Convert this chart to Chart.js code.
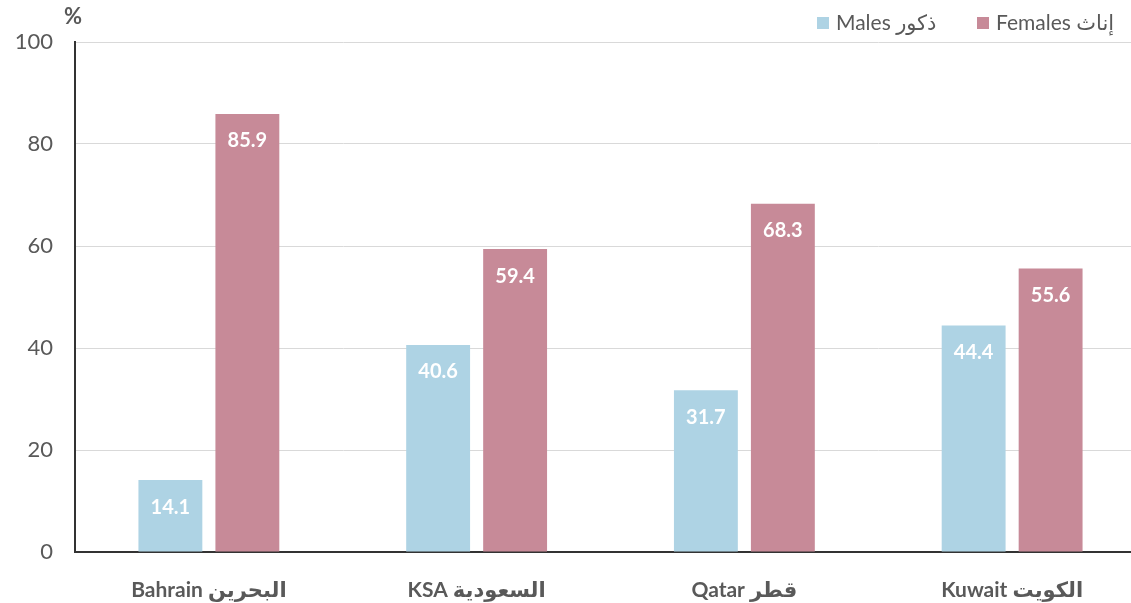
<!DOCTYPE html>
<html>
<head>
<meta charset="utf-8">
<script src="https://cdn.jsdelivr.net/npm/chart.js@4.4.1/dist/chart.umd.min.js"></script>
<style>
  html, body { margin: 0; padding: 0; background: #fff; overflow: hidden; }
  #wrap { width: 1150px; height: 603px; position: relative; }
</style>
</head>
<body>
<div id="wrap"><canvas id="chart"></canvas></div>
<script>
// Chart data
const categories = ['Bahrain البحرين', 'KSA السعودية', 'Qatar قطر', 'Kuwait الكويت'];
const malesValues = [14.1, 40.6, 31.7, 44.4];
const femalesValues = [85.9, 59.4, 68.3, 55.6];
const seriesLabels = ['Males ذكور', 'Females إناث'];
const yTicks = [0, 20, 40, 60, 80, 100];

const FONT = "Lato, 'DejaVu Sans', sans-serif";
const GREY = '#595959';
const MALE_COLOR = '#aed3e4';
const FEMALE_COLOR = '#c78a98';

// white value labels inside the top of each bar
const valueLabels = {
    id: 'valueLabels',
    afterDatasetsDraw(chart) {
        const ctx = chart.ctx;
        ctx.save();
        ctx.fillStyle = '#ffffff';
        ctx.font = 'bold 20px ' + FONT;
        ctx.textAlign = 'center';
        ctx.textBaseline = 'middle';
        chart.data.datasets.forEach((ds, i) => {
            chart.getDatasetMeta(i).data.forEach((bar, j) => {
                ctx.fillText(ds.data[j].toFixed(1), bar.x, bar.y + 27);
            });
        });
        ctx.restore();
    }
};

// legend in the top right plus the % unit label
const topDecor = {
    id: 'topDecor',
    afterDraw(chart) {
        const ctx = chart.ctx;
        ctx.save();
        ctx.font = '21px ' + FONT;
        ctx.textBaseline = 'middle';
        ctx.textAlign = 'left';
        const items = [
            { x: 817, color: MALE_COLOR, text: seriesLabels[0] },
            { x: 977, color: FEMALE_COLOR, text: seriesLabels[1] }
        ];
        items.forEach(it => {
            ctx.fillStyle = it.color;
            ctx.fillRect(it.x, 17, 12, 12);
            ctx.fillStyle = GREY;
            ctx.fillText(it.text, it.x + 19, 23);
        });
        ctx.font = 'bold 22px ' + FONT;
        ctx.textAlign = 'center';
        ctx.fillText('%', 73, 17);
        ctx.restore();
    }
};

new Chart(document.getElementById('chart'), {
    type: 'bar',
    data: {
        labels: categories,
        datasets: [
            {
                label: seriesLabels[0],
                data: malesValues,
                backgroundColor: MALE_COLOR,
                categoryPercentage: 0.575,
                barPercentage: 0.83
            },
            {
                label: seriesLabels[1],
                data: femalesValues,
                backgroundColor: FEMALE_COLOR,
                categoryPercentage: 0.575,
                barPercentage: 0.83
            }
        ]
    },
    options: {
        responsive: true,
        maintainAspectRatio: false,
        animation: false,
        layout: { padding: { top: 42, right: 4, left: 0, bottom: 0 } },
        plugins: {
            legend: { display: false },
            tooltip: { enabled: false }
        },
        scales: {
            x: {
                grid: { display: false },
                border: { display: true, color: '#333333', width: 2 },
                ticks: {
                    color: GREY,
                    font: { family: FONT, size: 21, weight: 'bold' },
                    padding: 18,
                    maxRotation: 0
                },
                afterFit(scale) { scale.height = 51; }
            },
            y: {
                min: 0,
                max: 100,
                afterBuildTicks(scale) { scale.ticks = yTicks.map(v => ({ value: v })); },
                grid: { color: '#d9d9d9', lineWidth: 1, drawTicks: false },
                border: { display: true, color: '#333333', width: 2 },
                ticks: {
                    color: GREY,
                    font: { family: FONT, size: 22 },
                    padding: 22
                },
                afterFit(scale) { scale.width = 75; }
            }
        }
    },
    plugins: [valueLabels, topDecor]
});
</script>
</body>
</html>
